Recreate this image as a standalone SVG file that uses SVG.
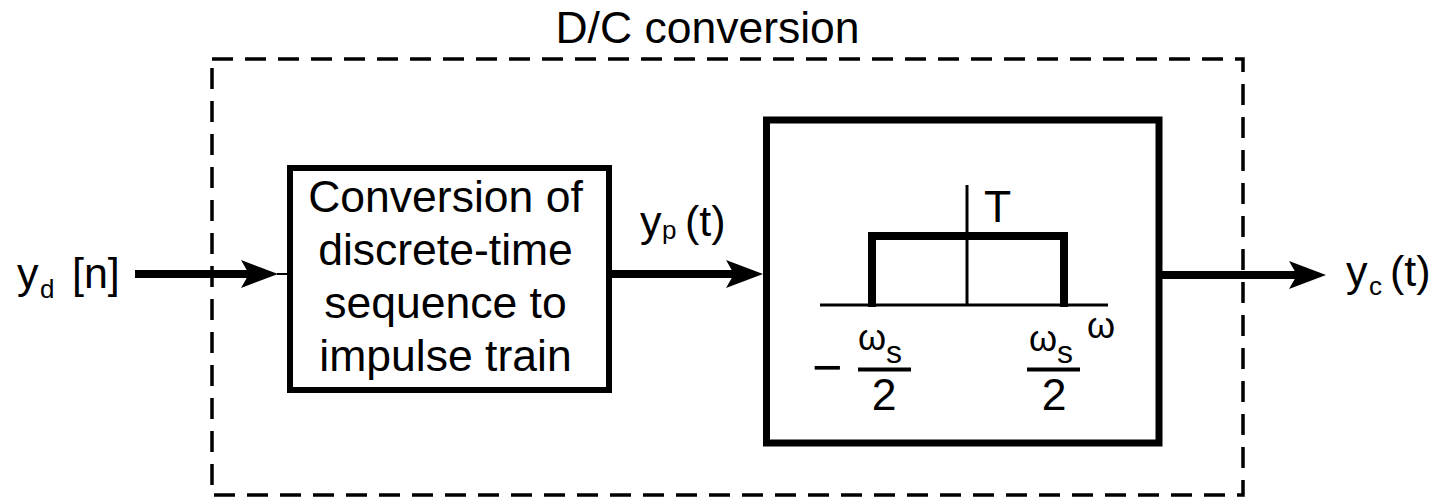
<svg xmlns="http://www.w3.org/2000/svg" xmlns:xlink="http://www.w3.org/1999/xlink" width="1441" height="498" viewBox="0 0 1441 498">
<style>
  text { font-family: "Liberation Sans", Arial, sans-serif; fill: #000; }
  .lbl { font-size: 44.5px; }
  .sig { font-size: 43px; }
  .sub { font-size: 26px; }
  .om { font-size: 36px; }
  .oms { font-size: 32px; }
  .box { fill: none; stroke: #000; }
  .dash { fill: none; stroke: #000; stroke-width: 3.5; stroke-dasharray: 21 12; }
  .wire { fill: none; stroke: #000; stroke-width: 8; }
  .thin { fill: none; stroke: #000; stroke-width: 2; }
  .ax { fill: none; stroke: #000; stroke-width: 3; }
  .bar { stroke: #000; stroke-width: 4; }
  .head { fill: #000; }
</style>
<defs>
  <path id="head" class="head" d="M0,0 L-37,-14 L-29,0 L-37,14 Z"/>
</defs>
<rect width="1441" height="498" fill="#fff"/>

<g id="dc-conversion">
  <rect class="dash" x="212" y="59" width="1031" height="436"/>
  <text class="lbl" x="707.5" y="43" text-anchor="middle">D/C conversion</text>
</g>

<g id="input-label">
  <text class="sig" x="17" y="288">y</text>
  <text class="sub" x="40" y="298">d</text>
  <text class="sig" x="72" y="288">[n]</text>
</g>

<g id="converter">
  <rect class="box" stroke-width="6" x="290" y="168" width="319" height="222"/>
  <text class="lbl" x="445.5" y="212" text-anchor="middle">Conversion of</text>
  <text class="lbl" x="445.5" y="265" text-anchor="middle">discrete-time</text>
  <text class="lbl" x="445.5" y="318" text-anchor="middle">sequence to</text>
  <text class="lbl" x="445.5" y="371" text-anchor="middle">impulse train</text>
</g>

<g id="yp-label">
  <text class="sig" x="640" y="236">y</text>
  <text class="sub" x="662" y="239">p</text>
  <text class="sig" x="685" y="236">(t)</text>
</g>

<g id="lowpass-filter">
  <rect class="box" stroke-width="7" x="766.5" y="120" width="392.5" height="323"/>
  <line class="ax" x1="820" y1="305" x2="1108" y2="305"/>
  <line class="ax" x1="967" y1="185" x2="967" y2="305"/>
  <path d="M872,307 V236 H1064 V307" fill="none" stroke="#000" stroke-width="8"/>
  <text class="lbl" x="984" y="222">T</text>
  <text class="om" x="1087" y="338">ω</text>
  <text x="812" y="384.5" font-size="52">−</text>
  <text class="om" x="858" y="350">ω<tspan class="oms" y="363">s</tspan></text>
  <line class="bar" x1="858" y1="369.5" x2="911" y2="369.5"/>
  <text class="lbl" x="884" y="410" text-anchor="middle">2</text>
  <text class="om" x="1029" y="351">ω<tspan class="oms" y="363">s</tspan></text>
  <line class="bar" x1="1027" y1="369.5" x2="1080" y2="369.5"/>
  <text class="lbl" x="1054" y="410" text-anchor="middle">2</text>
</g>

<g id="output-label">
  <text class="sig" x="1346" y="286">y</text>
  <text class="sub" x="1369" y="295">c</text>
  <text class="sig" x="1390" y="286">(t)</text>
</g>

<g id="connectors">
  <line class="wire" x1="135" y1="274" x2="250" y2="274"/>
  <use xlink:href="#head" transform="translate(278,274)"/>
  <line class="thin" x1="277" y1="274" x2="290" y2="274"/>
  <line class="wire" x1="612" y1="274" x2="735" y2="274"/>
  <use xlink:href="#head" transform="translate(763,274)"/>
  <line class="wire" x1="1162" y1="275" x2="1300" y2="275"/>
  <use xlink:href="#head" transform="translate(1326,275)"/>
</g>
</svg>
